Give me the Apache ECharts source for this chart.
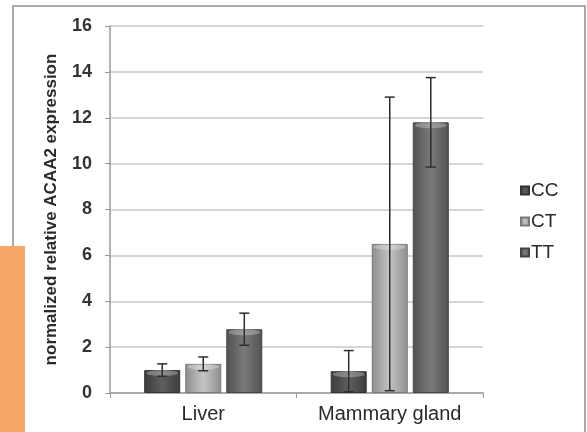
<!DOCTYPE html>
<html>
<head>
<meta charset="utf-8">
<script src="https://cdn.jsdelivr.net/npm/echarts@6/dist/echarts.min.js"></script>
<style>
html,body{margin:0;padding:0;background:#fff;}
#chart{width:587px;height:432px;}
</style>
</head>
<body>
<div id="chart"></div>
<script>
// ---- data ----
var categories = ['Liver', 'Mammary gland'];
var seriesNames = ['CC', 'CT', 'TT'];
var ccValues = [1.0, 0.95];
var ccErrors = [0.27, 0.9];
var ctValues = [1.27, 6.5];
var ctErrors = [0.3, 6.4];
var ttValues = [2.78, 11.8];
var ttErrors = [0.7, 1.95];
var yTicks = [0, 2, 4, 6, 8, 10, 12, 14, 16];

var values = [ccValues, ctValues, ttValues];
var errors = [ccErrors, ctErrors, ttErrors];

// ---- style ----
var BAR_W = 36;
var BAR_GAP = 0.14;
var palettes = [
  ['#3c3c3c', '#5e5e5e', '#3c3c3c', '#333333'],
  ['#8e8e8e', '#c4c4c4', '#8e8e8e', '#7a7a7a'],
  ['#525252', '#7a7a7a', '#525252', '#444444']
];
function grad(p) {
  return new echarts.graphic.LinearGradient(0, 0, 1, 0, [
    {offset: 0, color: p[0]},
    {offset: 0.5, color: p[1]},
    {offset: 1, color: p[2]}
  ]);
}

var chart = echarts.init(document.getElementById('chart'), null, {renderer: 'canvas'});

var series = [];
seriesNames.forEach(function (name, i) {
  series.push({
    name: name,
    type: 'bar',
    data: values[i],
    barWidth: BAR_W,
    barGap: (BAR_GAP * 100) + '%',
    itemStyle: {color: grad(palettes[i]), borderColor: palettes[i][3], borderWidth: 1},
    emphasis: {disabled: true},
    z: 2
  });
});
seriesNames.forEach(function (name, i) {
  var errData = values[i].map(function (v, k) { return [k, v - errors[i][k], v + errors[i][k], v]; });
  series.push({
    type: 'custom',
    name: name + '_err',
    data: errData,
    z: 5,
    silent: true,
    renderItem: function (params, api) {
      var x = api.value(0);
      var lo = api.coord([x, api.value(1)]);
      var hi = api.coord([x, api.value(2)]);
      var top = api.coord([x, api.value(3)]);
      var off = (i - 1) * BAR_W * (1 + BAR_GAP);
      var cx = lo[0] + off;
      var cap = 5;
      var st = {stroke: '#2e2e2e', lineWidth: 1.5};
      return {
        type: 'group',
        children: [
          {type: 'ellipse', shape: {cx: cx, cy: top[1] + 3, rx: BAR_W / 2 - 2, ry: 3},
            style: {fill: 'rgba(255,255,255,0.28)'}},
          {type: 'line', shape: {x1: cx, y1: lo[1], x2: cx, y2: hi[1]}, style: st},
          {type: 'line', shape: {x1: cx - cap, y1: hi[1], x2: cx + cap, y2: hi[1]}, style: st},
          {type: 'line', shape: {x1: cx - cap, y1: lo[1], x2: cx + cap, y2: lo[1]}, style: st}
        ]
      };
    }
  });
});

var option = {
  animation: false,
  backgroundColor: '#ffffff',
  textStyle: {fontFamily: 'Liberation Sans, Arial, sans-serif'},
  grid: {left: 110, right: 104, top: 26, bottom: 39},
  legend: {
    data: seriesNames.map(function (n) { return {name: n, icon: 'rect'}; }),
    orient: 'vertical',
    left: 515,
    top: 176,
    itemWidth: 8,
    itemHeight: 8,
    itemGap: 12,
    textStyle: {fontSize: 19, color: '#2a2a2a', padding: [0, 0, 0, -3]},
    selectedMode: false
  },
  xAxis: {
    type: 'category',
    data: categories,
    axisLine: {lineStyle: {color: '#9a9a9a', width: 1.5}},
    axisTick: {show: true, length: 5, lineStyle: {color: '#9a9a9a'}},
    axisLabel: {fontSize: 20, color: '#2a2a2a', margin: 11}
  },
  yAxis: {
    type: 'value',
    min: yTicks[0],
    max: yTicks[yTicks.length - 1],
    interval: yTicks[1] - yTicks[0],
    name: 'normalized relative ACAA2 expression',
    nameLocation: 'middle',
    nameRotate: 90,
    nameGap: 50,
    nameTextStyle: {fontSize: 17, fontWeight: 'bold', color: '#2a2a2a'},
    axisLine: {show: true, lineStyle: {color: '#9a9a9a', width: 1.5}},
    axisTick: {show: true, length: 5, lineStyle: {color: '#9a9a9a'}},
    axisLabel: {fontSize: 18, fontWeight: 'bold', color: '#333333', margin: 18},
    splitLine: {lineStyle: {color: '#c8c8c8', width: 1.5}}
  },
  graphic: [
    {type: 'rect', shape: {x: 13, y: 6, width: 572, height: 440}, style: {fill: 'none', stroke: '#aaaaaa', lineWidth: 2}, z: -1},
    {type: 'rect', shape: {x: 0, y: 246, width: 25, height: 186}, style: {fill: '#f6a86b'}, z: 10}
  ],
  series: series
};
chart.setOption(option);
</script>
</body>
</html>
